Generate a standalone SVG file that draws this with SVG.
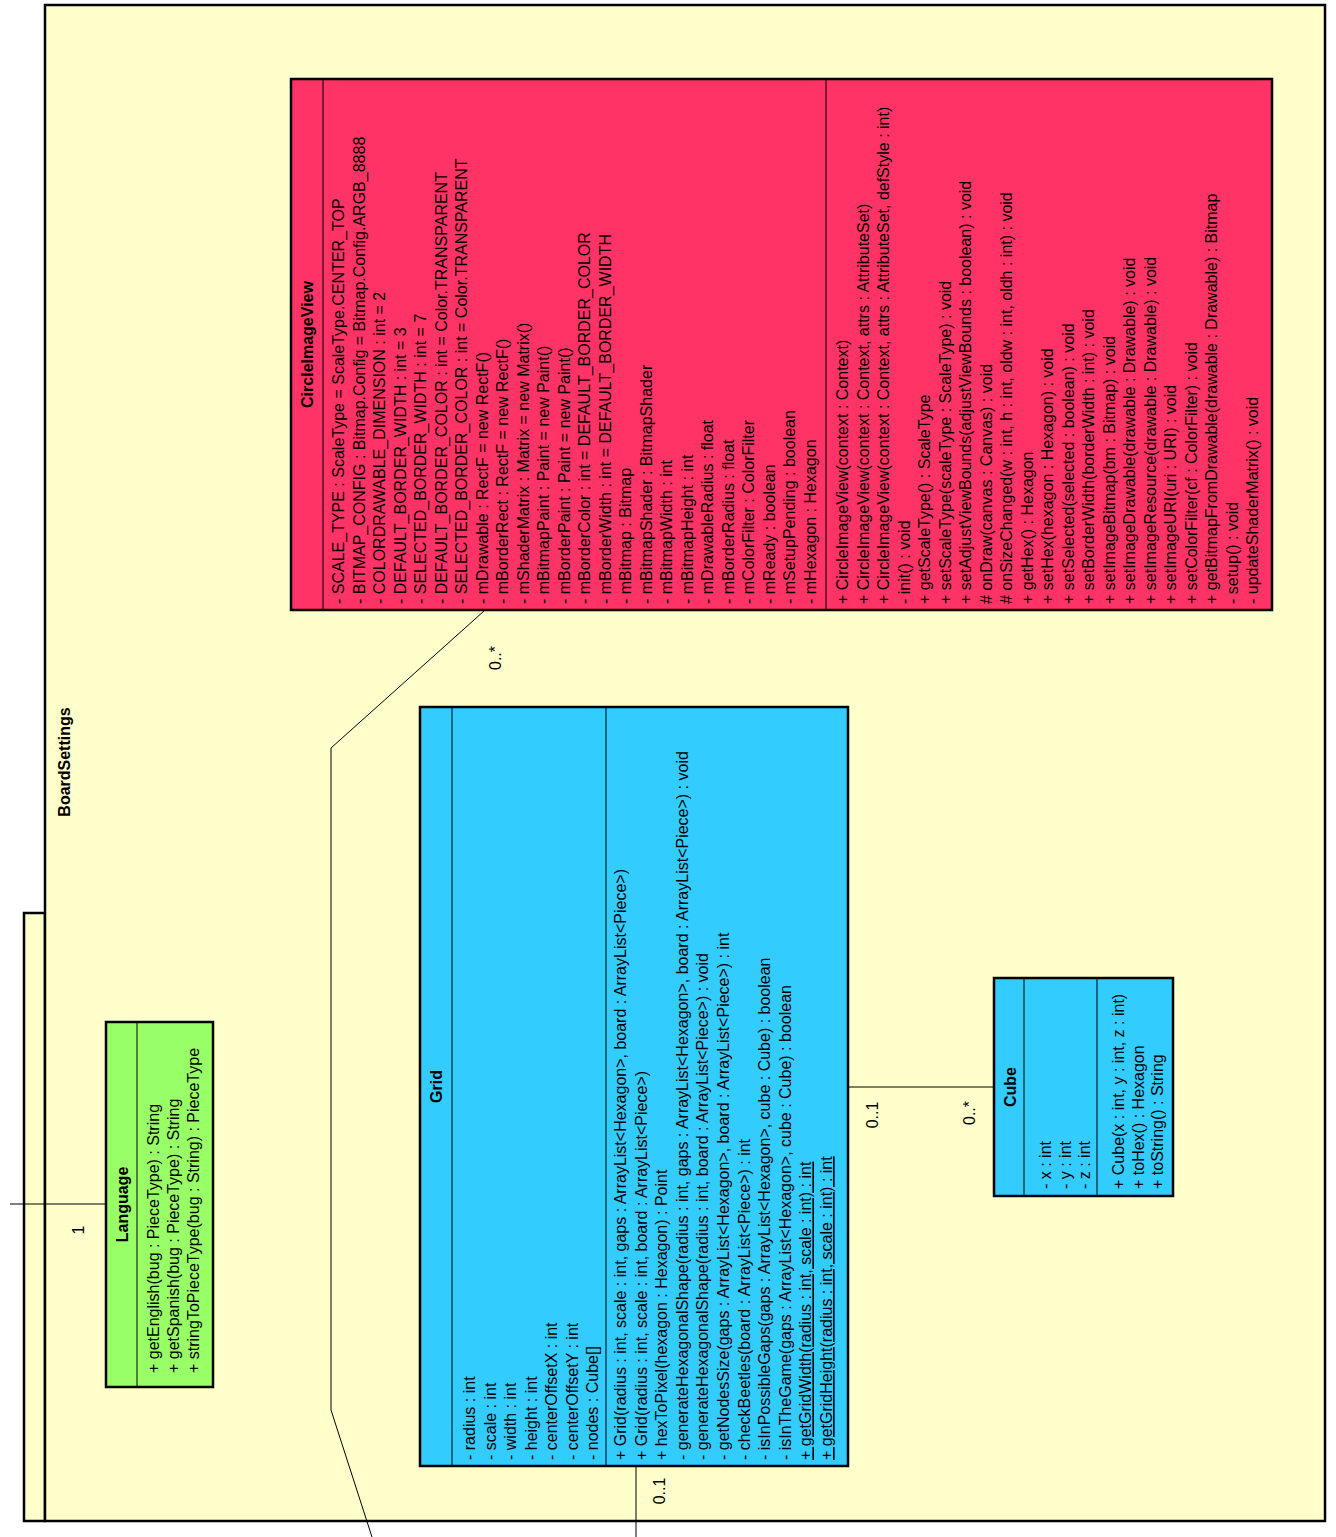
<svg xmlns="http://www.w3.org/2000/svg" width="1336" height="1537" viewBox="0 0 1336 1537">
<style>
.pkg{fill:#FFFFCC;stroke:#000;stroke-width:2.5}
.box{stroke:#000;stroke-width:2.5}
.pink{fill:#FF3366}
.blue{fill:#33CCFF}
.green{fill:#99FF66}
.dv{stroke:#000;stroke-width:1;fill:none}
.conn{stroke:#000;stroke-width:1;fill:none}
text{font-family:"Liberation Sans",Arial,sans-serif;font-size:16px;fill:#000}
.n{font-size:16px;font-weight:bold;text-anchor:middle}
.pn{font-size:16px;font-weight:bold;text-anchor:middle}
.lbl{text-anchor:middle}
.u{text-decoration:underline}
</style>
<rect width="1336" height="1537" fill="#fff"/>
<g id="BoardSettings">
<path class="pkg" d="M45,913 H24 V1521 H45 Z"/>
<rect class="pkg" x="45" y="5" width="1280" height="1516"/>
<text class="pn" transform="translate(70,762) rotate(-90)">BoardSettings</text>
</g>
<g id="connectors">
<polyline class="conn" points="10,1204 106,1204"/>
<polyline class="conn" points="484,611 331,748 331,1410 372,1537"/>
<polyline class="conn" points="636,1466 636,1537"/>
<polyline class="conn" points="848,1087 994,1087"/>
<text class="lbl" transform="translate(84,1230) rotate(-90)">1</text>
<text class="lbl" transform="translate(501,658) rotate(-90)">0..*</text>
<text class="lbl" transform="translate(665,1491) rotate(-90)">0..1</text>
<text class="lbl" transform="translate(878,1115) rotate(-90)">0..1</text>
<text class="lbl" transform="translate(975,1113) rotate(-90)">0..*</text>
</g>
<g id="CircleImageView">
<rect class="box pink" x="291" y="79" width="981" height="531"/>
<line class="dv" x1="323" y1="79" x2="323" y2="610"/>
<line class="dv" x1="826" y1="79" x2="826" y2="610"/>
<text class="n" transform="translate(313,344.5) rotate(-90)">CircleImageView</text>
<g transform="translate(344,604) rotate(-90)">
<text y="0">- SCALE_TYPE : ScaleType = ScaleType.CENTER_TOP</text>
<text y="20.5">- BITMAP_CONFIG : Bitmap.Config = Bitmap.Config.ARGB_8888</text>
<text y="41">- COLORDRAWABLE_DIMENSION : int = 2</text>
<text y="61.5">- DEFAULT_BORDER_WIDTH : int = 3</text>
<text y="82">- SELECTED_BORDER_WIDTH : int = 7</text>
<text y="102.5">- DEFAULT_BORDER_COLOR : int = Color.TRANSPARENT</text>
<text y="123">- SELECTED_BORDER_COLOR : int = Color.TRANSPARENT</text>
<text y="143.5">- mDrawable : RectF = new RectF()</text>
<text y="164">- mBorderRect : RectF = new RectF()</text>
<text y="184.5">- mShaderMatrix : Matrix = new Matrix()</text>
<text y="205">- mBitmapPaint : Paint = new Paint()</text>
<text y="225.5">- mBorderPaint : Paint = new Paint()</text>
<text y="246">- mBorderColor : int = DEFAULT_BORDER_COLOR</text>
<text y="266.5">- mBorderWidth : int = DEFAULT_BORDER_WIDTH</text>
<text y="287">- mBitmap : Bitmap</text>
<text y="307.5">- mBitmapShader : BitmapShader</text>
<text y="328">- mBitmapWidth : int</text>
<text y="348.5">- mBitmapHeight : int</text>
<text y="369">- mDrawableRadius : float</text>
<text y="389.5">- mBorderRadius : float</text>
<text y="410">- mColorFilter : ColorFilter</text>
<text y="430.5">- mReady : boolean</text>
<text y="451">- mSetupPending : boolean</text>
<text y="471.5">- mHexagon : Hexagon</text>
</g>
<g transform="translate(848,604) rotate(-90)">
<text y="0">+ CircleImageView(context : Context)</text>
<text y="20.5">+ CircleImageView(context : Context, attrs : AttributeSet)</text>
<text y="41">+ CircleImageView(context : Context, attrs : AttributeSet, defStyle : int)</text>
<text y="61.5">- init() : void</text>
<text y="82">+ getScaleType() : ScaleType</text>
<text y="102.5">+ setScaleType(scaleType : ScaleType) : void</text>
<text y="123">+ setAdjustViewBounds(adjustViewBounds : boolean) : void</text>
<text y="143.5"># onDraw(canvas : Canvas) : void</text>
<text y="164"># onSizeChanged(w : int, h : int, oldw : int, oldh : int) : void</text>
<text y="184.5">+ getHex() : Hexagon</text>
<text y="205">+ setHex(hexagon : Hexagon) : void</text>
<text y="225.5">+ setSelected(selected : boolean) : void</text>
<text y="246">+ setBorderWidth(borderWidth : int) : void</text>
<text y="266.5">+ setImageBitmap(bm : Bitmap) : void</text>
<text y="287">+ setImageDrawable(drawable : Drawable) : void</text>
<text y="307.5">+ setImageResource(drawable : Drawable) : void</text>
<text y="328">+ setImageURI(uri : URI) : void</text>
<text y="348.5">+ setColorFilter(cf : ColorFilter) : void</text>
<text y="369">+ getBitmapFromDrawable(drawable : Drawable) : Bitmap</text>
<text y="389.5">- setup() : void</text>
<text y="410">- updateShaderMatrix() : void</text>
</g>
</g>
<g id="Grid">
<rect class="box blue" x="420" y="707" width="428" height="759"/>
<line class="dv" x1="452" y1="707" x2="452" y2="1466"/>
<line class="dv" x1="606" y1="707" x2="606" y2="1466"/>
<text class="n" transform="translate(442,1086.5) rotate(-90)">Grid</text>
<g transform="translate(475,1460) rotate(-90)">
<text y="0">- radius : int</text>
<text y="20.5">- scale : int</text>
<text y="41">- width : int</text>
<text y="61.5">- height : int</text>
<text y="82">- centerOffsetX : int</text>
<text y="102.5">- centerOffsetY : int</text>
<text y="123">- nodes : Cube[]</text>
</g>
<g transform="translate(626,1460) rotate(-90)">
<text y="0">+ Grid(radius : int, scale : int, gaps : ArrayList&lt;Hexagon&gt;, board : ArrayList&lt;Piece&gt;)</text>
<text y="20.6">+ Grid(radius : int, scale : int, board : ArrayList&lt;Piece&gt;)</text>
<text y="41.2">+ hexToPixel(hexagon : Hexagon) : Point</text>
<text y="61.8">- generateHexagonalShape(radius : int, gaps : ArrayList&lt;Hexagon&gt;, board : ArrayList&lt;Piece&gt;) : void</text>
<text y="82.4">- generateHexagonalShape(radius : int, board : ArrayList&lt;Piece&gt;) : void</text>
<text y="103">- getNodesSize(gaps : ArrayList&lt;Hexagon&gt;, board : ArrayList&lt;Piece&gt;) : int</text>
<text y="123.6">- checkBeetles(board : ArrayList&lt;Piece&gt;) : int</text>
<text y="144.2">- isInPossibleGaps(gaps : ArrayList&lt;Hexagon&gt;, cube : Cube) : boolean</text>
<text y="164.8">- isInTheGame(gaps : ArrayList&lt;Hexagon&gt;, cube : Cube) : boolean</text>
<text y="185.4" class="u">+ getGridWidth(radius : int, scale : int) : int</text>
<text y="206" class="u">+ getGridHeight(radius : int, scale : int) : int</text>
</g>
</g>
<g id="Cube">
<rect class="box blue" x="994" y="978" width="179" height="218"/>
<line class="dv" x1="1024" y1="978" x2="1024" y2="1196"/>
<line class="dv" x1="1097" y1="978" x2="1097" y2="1196"/>
<text class="n" transform="translate(1016,1087) rotate(-90)">Cube</text>
<g transform="translate(1051,1189) rotate(-90)">
<text y="0">- x : int</text>
<text y="19.5">- y : int</text>
<text y="39">- z : int</text>
</g>
<g transform="translate(1124,1189) rotate(-90)">
<text y="0">+ Cube(x : int, y : int, z : int)</text>
<text y="19.5">+ toHex() : Hexagon</text>
<text y="39">+ toString() : String</text>
</g>
</g>
<g id="Language">
<rect class="box green" x="106" y="1022" width="107" height="365"/>
<line class="dv" x1="137" y1="1022" x2="137" y2="1387"/>
<text class="n" transform="translate(128,1204.5) rotate(-90)">Language</text>
<g transform="translate(159,1373) rotate(-90)">
<text y="0">+ getEnglish(bug : PieceType) : String</text>
<text y="20">+ getSpanish(bug : PieceType) : String</text>
<text y="40">+ stringToPieceType(bug : String) : PieceType</text>
</g>
</g>
</svg>
